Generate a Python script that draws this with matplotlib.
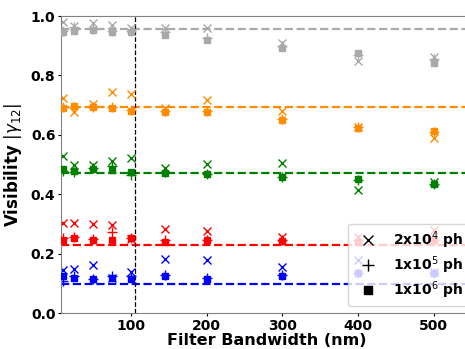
import numpy as np
import matplotlib
matplotlib.use("Agg")
import matplotlib.pyplot as plt

# filter bandwidths (nm)
bw = [10, 25, 50, 75, 100, 145, 200, 300, 400, 500]

colors = ['darkgray', 'darkorange', 'green', 'red', 'blue']
# reference visibility for each set (dashed lines)
ref_vis = [0.955, 0.693, 0.473, 0.23, 0.10]

# 2x10^4 photons (x markers)
vis_2e4 = [
    [0.98, 0.966, 0.977, 0.97, 0.96, 0.96, 0.96, 0.908, 0.849, 0.861],
    [0.723, 0.676, 0.704, 0.745, 0.738, 0.69, 0.718, 0.682, 0.625, 0.589],
    [0.529, 0.499, 0.50, 0.513, 0.522, 0.489, 0.503, 0.507, 0.415, 0.44],
    [0.305, 0.305, 0.30, 0.296, 0.25, 0.283, 0.278, 0.258, 0.258, 0.28],
    [0.146, 0.148, 0.163, 0.12, 0.14, 0.182, 0.18, 0.157, 0.18, 0.14],
]
# 1x10^5 photons (+ markers)
vis_1e5 = [
    [0.95, 0.962, 0.955, 0.95, 0.948, 0.945, 0.925, 0.90, 0.87, 0.855],
    [0.695, 0.695, 0.695, 0.693, 0.685, 0.68, 0.68, 0.655, 0.625, 0.61],
    [0.48, 0.475, 0.49, 0.495, 0.465, 0.475, 0.47, 0.46, 0.45, 0.435],
    [0.253, 0.255, 0.25, 0.272, 0.253, 0.245, 0.248, 0.245, 0.245, 0.245],
    [0.107, 0.125, 0.115, 0.125, 0.125, 0.128, 0.12, 0.13, 0.135, 0.135],
]
# 1x10^6 photons (squares)
vis_1e6 = [
    [0.947, 0.95, 0.953, 0.945, 0.945, 0.937, 0.919, 0.891, 0.875, 0.841],
    [0.69, 0.697, 0.693, 0.69, 0.68, 0.677, 0.677, 0.65, 0.622, 0.613],
    [0.486, 0.48, 0.486, 0.482, 0.475, 0.473, 0.468, 0.458, 0.451, 0.435],
    [0.245, 0.253, 0.245, 0.247, 0.253, 0.241, 0.245, 0.244, 0.241, 0.245],
    [0.124, 0.118, 0.115, 0.12, 0.117, 0.124, 0.117, 0.124, 0.135, 0.135],
]

fig = plt.figure(figsize=(4.65, 3.49), dpi=100)
# axes runs a little past the right edge of the figure (cropped original)
ax = fig.add_axes([61/465, 35.7/349, 414.5/465, (313.3-16)/349])

for i in range(5):
    c = colors[i]
    ax.axhline(ref_vis[i], color=c, ls='--', lw=1.6, zorder=1)
    ax.plot(bw, vis_2e4[i], 'x', color=c, ms=5.5, mew=1.0, zorder=2)
    ax.plot(bw, vis_1e5[i], '+', color=c, ms=6.5, mew=1.0, zorder=2)
    ax.plot(bw, vis_1e6[i], 's', color=c, ms=5, zorder=3)

ax.axvline(105, color='black', ls='--', lw=0.9, zorder=1)

ax.set_xlim(7.5, 555)
ax.set_ylim(0, 1.0)
ax.set_xticks([100, 200, 300, 400, 500])
ax.set_yticks([0.0, 0.2, 0.4, 0.6, 0.8, 1.0])
ax.tick_params(labelsize=10, length=2, pad=2)
for lab in ax.get_xticklabels() + ax.get_yticklabels():
    lab.set_fontweight('bold')
ax.set_xlabel('Filter Bandwidth (nm)', fontsize=11.5, fontweight='bold')
ax.xaxis.set_label_coords(0.497, -0.065)
ax.xaxis.label.set_va('top')
ax.set_ylabel(r'Visibility $|\gamma_{12}|$', fontsize=12, fontweight='bold', labelpad=5)
for sp in ax.spines.values():
    sp.set_color('gray')

h1, = ax.plot([], [], 'x', color='black', ms=7, mew=1.0)
h2, = ax.plot([], [], '+', color='black', ms=8, mew=1.0)
h3, = ax.plot([], [], 's', color='black', ms=6)
leg = ax.legend([h1, h2, h3], [r'2x10$^4$ ph', r'1x10$^5$ ph', r'1x10$^6$ ph'],
                loc='lower right', prop={'weight': 'bold', 'size': 10},
                labelspacing=0.25, framealpha=0.8)

fig.savefig('out.png', dpi=100)
